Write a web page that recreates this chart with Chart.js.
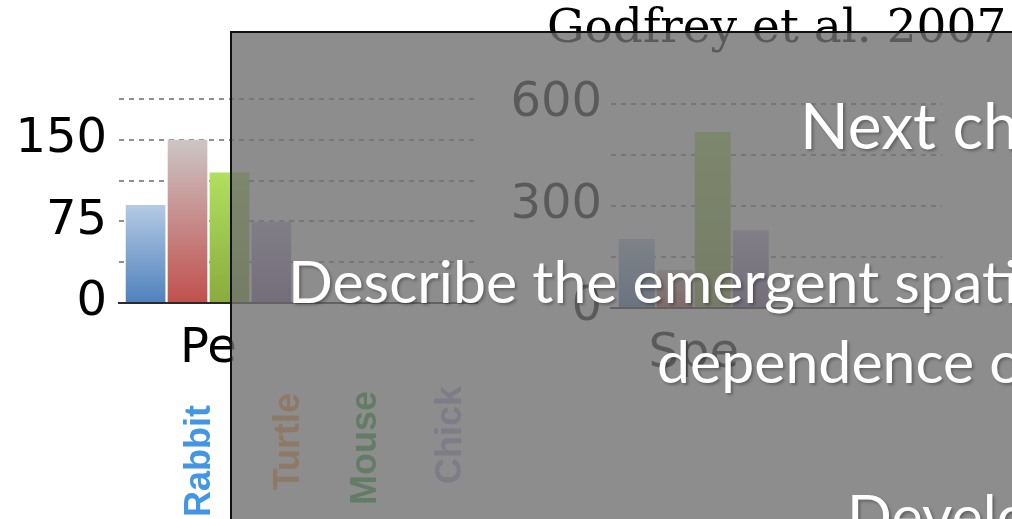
<!doctype html>
<html lang="en">
<head>
<meta charset="UTF-8">
<title>Pe / Spe</title>
<style>
    * {
        margin: 0;
        padding: 0;
        box-sizing: border-box;
    }

    body {
        width: 1012px;
        height: 519px;
        overflow: hidden;
        background: #fff;
    }

    #slide {
        position: relative;
        width: 1012px;
        height: 519px;
        overflow: hidden;
    }

    canvas {
        position: absolute;
    }

    #peChart {
        left: 0;
        top: 0;
    }

    #speChart {
        left: 482px;
        top: 5px;
    }

    .cite {
        position: absolute;
        left: 547px;
        top: 2px;
        font-family: 'DejaVu Serif', serif;
        font-size: 47px;
        line-height: 1;
        white-space: nowrap;
        color: #000;
    }

    .species {
        position: absolute;
        writing-mode: vertical-rl;
        transform: rotate(180deg);
        font-family: 'Liberation Sans', Arial, sans-serif;
        font-weight: bold;
        font-size: 36px;
        line-height: 1;
        white-space: nowrap;
    }

    #shade {
        position: absolute;
        left: 230px;
        top: 31px;
        width: 900px;
        height: 600px;
        border-top: 2px solid #111;
        border-left: 2px solid #111;
        background: rgba(112, 112, 112, 0.8);
    }

    .note {
        position: absolute;
        font-family: Lato, sans-serif;
        color: #fff;
        line-height: 1;
        white-space: nowrap;
        text-shadow: 2px 2px 3px rgba(0, 0, 0, 0.3);
    }
</style>
</head>
<body>

<div id="slide">
    <canvas id="peChart" width="482" height="420"></canvas>
    <canvas id="speChart" width="465" height="420"></canvas>
    <div class="cite">Godfrey et al. 2007</div>
    <div id="legend"></div>
    <div id="shade"></div>
    <div class="note" style="left:800px; top:93px; font-size:64px;">Next challenges</div>
    <div class="note" style="left:288px; top:251px; font-size:59px;">Describe the emergent spatial</div>
    <div class="note" style="left:657px; top:331px; font-size:59px;">dependence of</div>
    <div class="note" style="left:847px; top:485px; font-size:59px;">Develop</div>
</div>

<script src="https://cdn.jsdelivr.net/npm/chart.js"></script>

<script>
    const seriesNames = ['Rabbit', 'Turtle', 'Mouse', 'Chick'];

    // left panel
    const peCategories = ['Pe', ''];
    const peValues = [90, 150, 120, 75];
    const peTicks = [0, 75, 150];

    // right panel
    const speCategories = ['Spe', ''];
    const speValues = [203, 112, 518, 229];
    const speTicks = [0, 300, 600];

    // bar fills: light at the top, full colour at the base
    const fillTop = ['#b4c9e4', '#ccc6c6', '#b0e060', '#c4b4dc'];
    const fillBase = ['#4f81bd', '#c0504d', '#8aab3e', '#8064a2'];
    const nameColors = ['#4396e6', '#ff9c3c', '#2fa83a', '#b4a8dc'];
    // where each rotated name sits: left edge, distance of text start from the bottom
    const namePlaces = [[180, 2], [269, 29], [346, 14], [431, 35]];

    Chart.defaults.font.family = "'DejaVu Sans', sans-serif";
    Chart.defaults.color = '#000';

    function barFill(i) {
        return (c) => {
            const chart = c.chart;
            if (!chart.chartArea || c.raw == null) return fillBase[i];
            const y = chart.scales.y;
            const top = y.getPixelForValue(c.raw);
            const base = y.getPixelForValue(0);
            const g = chart.ctx.createLinearGradient(0, top, 0, base);
            g.addColorStop(0, fillTop[i]);
            g.addColorStop(1, fillBase[i]);
            return g;
        };
    }

    function makeChart(id, labels, values, tickList, max, step, axisWidth, labelPad, catPct, barPct) {
        return new Chart(document.getElementById(id), {
            type: 'bar',
            data: {
                labels: labels,
                datasets: seriesNames.map((name, i) => ({
                    label: name,
                    data: [values[i], null],
                    backgroundColor: barFill(i),
                    borderWidth: 0,
                    categoryPercentage: catPct,
                    barPercentage: barPct
                }))
            },
            options: {
                responsive: false,
                animation: false,
                layout: {padding: {top: 99, right: 5, left: 0, bottom: 0}},
                plugins: {legend: {display: false}, tooltip: {enabled: false}},
                scales: {
                    x: {
                        grid: {display: false},
                        border: {display: true, color: '#2a2a2a', width: 2},
                        ticks: {font: {size: 48}, padding: 10, maxRotation: 0, autoSkip: false},
                        afterFit: (s) => {
                            s.height = 117;
                            s.paddingLeft = 0;
                            s.paddingRight = 0;
                        }
                    },
                    y: {
                        min: 0,
                        max: max,
                        ticks: {
                            stepSize: step,
                            autoSkip: false,
                            font: {size: 48},
                            padding: labelPad,
                            callback: (v) => tickList.includes(v) ? String(v) : ''
                        },
                        grid: {
                            drawTicks: false,
                            lineWidth: 2,
                            color: (c) => c.tick && c.tick.value === 0 ? 'rgba(0,0,0,0)' : '#8f8f8f'
                        },
                        border: {display: false, dash: [5, 5]},
                        afterFit: (s) => {
                            s.width = axisWidth;
                            s.paddingTop = 0;
                            s.paddingBottom = 0;
                        }
                    }
                }
            }
        });
    }

    makeChart('peChart', peCategories, peValues, peTicks, 187.5, 37.5, 119, 12, 0.9375, 0.945);
    makeChart('speChart', speCategories, speValues, speTicks, 600, 150, 129, 9, 0.918, 0.947);

    // rotated species names under the charts
    const legend = document.getElementById('legend');
    seriesNames.forEach((name, i) => {
        const el = document.createElement('div');
        el.className = 'species';
        el.textContent = name;
        el.style.color = nameColors[i];
        el.style.left = namePlaces[i][0] + 'px';
        el.style.bottom = namePlaces[i][1] + 'px';
        legend.appendChild(el);
    });
</script>

</body>
</html>
